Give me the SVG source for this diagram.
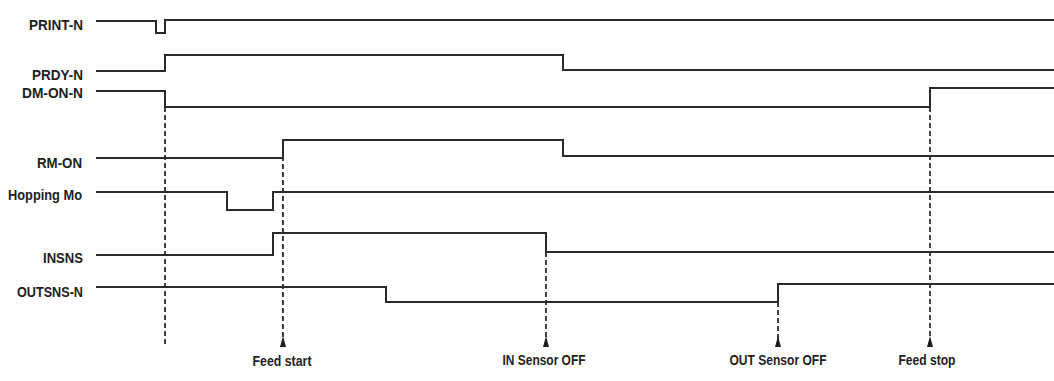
<svg xmlns="http://www.w3.org/2000/svg" width="1054" height="381" viewBox="0 0 1054 381">
<style>
.sig{fill:none;stroke:#2a2a2a;stroke-width:2;stroke-linejoin:miter}
.lbl{font-family:"Liberation Sans",Arial,sans-serif;font-weight:bold;font-size:15px;fill:#1e1e1e;text-anchor:end}
.ev{font-family:"Liberation Sans",Arial,sans-serif;font-weight:bold;font-size:15px;fill:#1e1e1e;text-anchor:middle}
.dash{fill:none;stroke:#2a2a2a;stroke-width:1.8;stroke-dasharray:5,3}
.arr{fill:#1e1e1e}
</style>
<rect width="1054" height="381" fill="#fff"/>
<g id="print-n">
<text class="lbl" x="83" y="30" textLength="54" lengthAdjust="spacingAndGlyphs">PRINT-N</text>
<path class="sig" d="M96,21 H156 V33 H165 V20 H1054"/>
</g>
<g id="prdy-n">
<text class="lbl" x="83" y="80" textLength="51" lengthAdjust="spacingAndGlyphs">PRDY-N</text>
<path class="sig" d="M96,71 H165 V55 H563 V70 H1054"/>
</g>
<g id="dm-on-n">
<text class="lbl" x="83" y="98" textLength="61" lengthAdjust="spacingAndGlyphs">DM-ON-N</text>
<path class="sig" d="M96,91 H165 V107 H930 V88 H1054"/>
</g>
<g id="rm-on">
<text class="lbl" x="82" y="168" textLength="45" lengthAdjust="spacingAndGlyphs">RM-ON</text>
<path class="sig" d="M96,158 H283 V140 H563 V156 H1054"/>
</g>
<g id="hopping-mo">
<text class="lbl" x="82" y="200" textLength="74" lengthAdjust="spacingAndGlyphs">Hopping Mo</text>
<path class="sig" d="M96,192 H227 V210 H273 V192 H1054"/>
</g>
<g id="insns">
<text class="lbl" x="83" y="263" textLength="40" lengthAdjust="spacingAndGlyphs">INSNS</text>
<path class="sig" d="M96,255 H273 V233 H546 V252 H1054"/>
</g>
<g id="outsns-n">
<text class="lbl" x="83" y="297" textLength="66" lengthAdjust="spacingAndGlyphs">OUTSNS-N</text>
<path class="sig" d="M96,287 H386 V302 H778 V284 H1054"/>
</g>
<g id="connectors">
<line class="dash" x1="165" y1="107" x2="165" y2="346"/>
<line class="dash" x1="283" y1="140" x2="283" y2="340"/>
<line class="dash" x1="546" y1="252" x2="546" y2="340"/>
<line class="dash" x1="778" y1="302" x2="778" y2="340"/>
<line class="dash" x1="930" y1="107" x2="930" y2="340"/>
<path class="arr" d="M283,336 L286,347 L280,347 Z"/>
<path class="arr" d="M546,336 L549,347 L543,347 Z"/>
<path class="arr" d="M778,336 L781,347 L775,347 Z"/>
<path class="arr" d="M930,336 L933,347 L927,347 Z"/>
</g>
<g id="events">
<text class="ev" x="282" y="366" textLength="59" lengthAdjust="spacingAndGlyphs">Feed start</text>
<text class="ev" x="544" y="365" textLength="83" lengthAdjust="spacingAndGlyphs">IN Sensor OFF</text>
<text class="ev" x="778" y="365" textLength="97" lengthAdjust="spacingAndGlyphs">OUT Sensor OFF</text>
<text class="ev" x="927" y="365" textLength="57" lengthAdjust="spacingAndGlyphs">Feed stop</text>
</g>
</svg>
